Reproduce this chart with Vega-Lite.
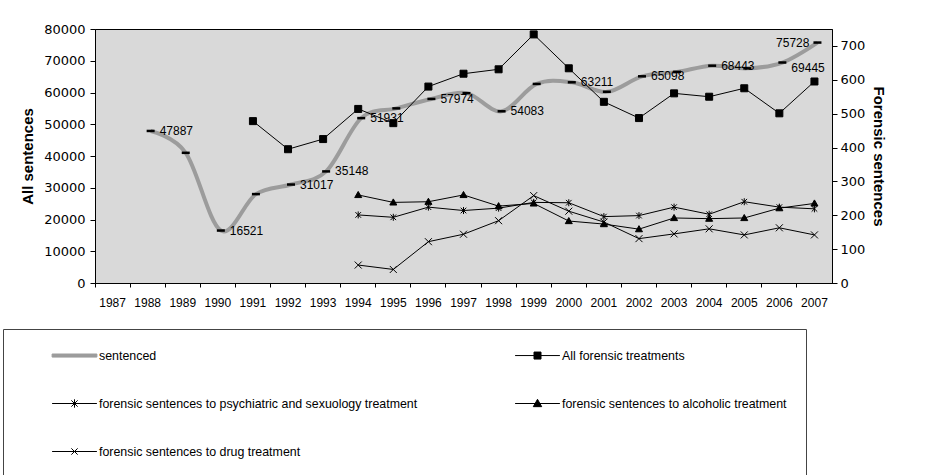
{
  "$schema": "https://vega.github.io/schema/vega-lite/v6.json",
  "width": 737,
  "height": 254,
  "autosize": {"type": "none"},
  "padding": {"left": 95, "top": 29, "right": 99, "bottom": 192},
  "background": "white",
  "config": {
    "view": {"fill": "#d9d9d9", "stroke": "#000", "strokeWidth": 1},
    "axis": {
      "grid": false,
      "domainColor": "#000",
      "tickColor": "#000",
      "labelColor": "#000",
      "titleColor": "#000",
      "domainWidth": 1,
      "tickWidth": 1
    }
  },
  "datasets": {
    "sentenced": [
      {"year": 1988, "value": 47887},
      {"year": 1989, "value": 41000},
      {"year": 1990, "value": 16521},
      {"year": 1991, "value": 28000},
      {"year": 1992, "value": 31017},
      {"year": 1993, "value": 35148},
      {"year": 1994, "value": 51931},
      {"year": 1995, "value": 55000},
      {"year": 1996, "value": 57974},
      {"year": 1997, "value": 59800},
      {"year": 1998, "value": 54083},
      {"year": 1999, "value": 62700},
      {"year": 2000, "value": 63211},
      {"year": 2001, "value": 60200},
      {"year": 2002, "value": 65098},
      {"year": 2003, "value": 66500},
      {"year": 2004, "value": 68443},
      {"year": 2005, "value": 67600},
      {"year": 2006, "value": 69445},
      {"year": 2007, "value": 75728}
    ],
    "forensic": [
      {"year": 1991, "series": "All forensic treatments", "value": 478},
      {"year": 1992, "series": "All forensic treatments", "value": 395},
      {"year": 1993, "series": "All forensic treatments", "value": 425},
      {"year": 1994, "series": "All forensic treatments", "value": 514},
      {"year": 1995, "series": "All forensic treatments", "value": 472},
      {"year": 1996, "series": "All forensic treatments", "value": 580},
      {"year": 1997, "series": "All forensic treatments", "value": 618},
      {"year": 1998, "series": "All forensic treatments", "value": 631},
      {"year": 1999, "series": "All forensic treatments", "value": 734},
      {"year": 2000, "series": "All forensic treatments", "value": 634},
      {"year": 2001, "series": "All forensic treatments", "value": 535},
      {"year": 2002, "series": "All forensic treatments", "value": 487},
      {"year": 2003, "series": "All forensic treatments", "value": 560},
      {"year": 2004, "series": "All forensic treatments", "value": 550},
      {"year": 2005, "series": "All forensic treatments", "value": 575},
      {"year": 2006, "series": "All forensic treatments", "value": 501},
      {"year": 2007, "series": "All forensic treatments", "value": 595},
      {"year": 1994, "series": "forensic sentences to psychiatric and sexuology treatment", "value": 201},
      {"year": 1995, "series": "forensic sentences to psychiatric and sexuology treatment", "value": 194},
      {"year": 1996, "series": "forensic sentences to psychiatric and sexuology treatment", "value": 224},
      {"year": 1997, "series": "forensic sentences to psychiatric and sexuology treatment", "value": 214},
      {"year": 1998, "series": "forensic sentences to psychiatric and sexuology treatment", "value": 221},
      {"year": 1999, "series": "forensic sentences to psychiatric and sexuology treatment", "value": 238},
      {"year": 2000, "series": "forensic sentences to psychiatric and sexuology treatment", "value": 237},
      {"year": 2001, "series": "forensic sentences to psychiatric and sexuology treatment", "value": 196},
      {"year": 2002, "series": "forensic sentences to psychiatric and sexuology treatment", "value": 199},
      {"year": 2003, "series": "forensic sentences to psychiatric and sexuology treatment", "value": 224},
      {"year": 2004, "series": "forensic sentences to psychiatric and sexuology treatment", "value": 203},
      {"year": 2005, "series": "forensic sentences to psychiatric and sexuology treatment", "value": 240},
      {"year": 2006, "series": "forensic sentences to psychiatric and sexuology treatment", "value": 224},
      {"year": 2007, "series": "forensic sentences to psychiatric and sexuology treatment", "value": 219},
      {"year": 1994, "series": "forensic sentences to alcoholic treatment", "value": 260},
      {"year": 1995, "series": "forensic sentences to alcoholic treatment", "value": 238},
      {"year": 1996, "series": "forensic sentences to alcoholic treatment", "value": 240},
      {"year": 1997, "series": "forensic sentences to alcoholic treatment", "value": 260},
      {"year": 1998, "series": "forensic sentences to alcoholic treatment", "value": 227},
      {"year": 1999, "series": "forensic sentences to alcoholic treatment", "value": 235},
      {"year": 2000, "series": "forensic sentences to alcoholic treatment", "value": 183},
      {"year": 2001, "series": "forensic sentences to alcoholic treatment", "value": 174},
      {"year": 2002, "series": "forensic sentences to alcoholic treatment", "value": 159},
      {"year": 2003, "series": "forensic sentences to alcoholic treatment", "value": 192},
      {"year": 2004, "series": "forensic sentences to alcoholic treatment", "value": 190},
      {"year": 2005, "series": "forensic sentences to alcoholic treatment", "value": 192},
      {"year": 2006, "series": "forensic sentences to alcoholic treatment", "value": 221},
      {"year": 2007, "series": "forensic sentences to alcoholic treatment", "value": 235},
      {"year": 1994, "series": "forensic sentences to drug treatment", "value": 53},
      {"year": 1995, "series": "forensic sentences to drug treatment", "value": 40},
      {"year": 1996, "series": "forensic sentences to drug treatment", "value": 122},
      {"year": 1997, "series": "forensic sentences to drug treatment", "value": 144},
      {"year": 1998, "series": "forensic sentences to drug treatment", "value": 184},
      {"year": 1999, "series": "forensic sentences to drug treatment", "value": 258},
      {"year": 2000, "series": "forensic sentences to drug treatment", "value": 212},
      {"year": 2001, "series": "forensic sentences to drug treatment", "value": 180},
      {"year": 2002, "series": "forensic sentences to drug treatment", "value": 131},
      {"year": 2003, "series": "forensic sentences to drug treatment", "value": 145},
      {"year": 2004, "series": "forensic sentences to drug treatment", "value": 160},
      {"year": 2005, "series": "forensic sentences to drug treatment", "value": 142},
      {"year": 2006, "series": "forensic sentences to drug treatment", "value": 163},
      {"year": 2007, "series": "forensic sentences to drug treatment", "value": 142}
    ]
  },
  "encoding": {
    "x": {
      "field": "year",
      "type": "ordinal",
      "bandPosition": 0.5,
      "scale": {
        "type": "band",
        "paddingInner": 0,
        "paddingOuter": 0,
        "domain": [1987, 1988, 1989, 1990, 1991, 1992, 1993, 1994, 1995, 1996, 1997, 1998, 1999, 2000, 2001, 2002, 2003, 2004, 2005, 2006, 2007]
      },
      "axis": {
        "title": null,
        "orient": "bottom",
        "bandPosition": 0,
        "labelAngle": 0,
        "tickSize": 4,
        "labelPadding": 10,
        "labelFont": "Liberation Sans",
        "labelFontSize": 12
      }
    }
  },
  "layer": [
    {
      "data": {"name": "sentenced"},
      "encoding": {
        "y": {
          "field": "value",
          "type": "quantitative",
          "scale": {"domain": [0, 80000], "nice": false, "zero": true},
          "axis": {
            "orient": "left",
            "title": "All sentences",
            "values": [0, 10000, 20000, 30000, 40000, 50000, 60000, 70000, 80000],
            "format": "d",
            "tickSize": 5,
            "labelPadding": 5,
            "labelFont": "DejaVu Sans",
            "labelFontSize": 13,
            "titleFont": "Liberation Sans",
            "titleFontSize": 15,
            "titleFontWeight": "bold",
            "titlePadding": 8
          }
        }
      },
      "layer": [
        {"mark": {"type": "line", "interpolate": "cardinal", "color": "#9c9c9c", "strokeWidth": 4, "xOffset": 3}},
        {"mark": {"type": "tick", "color": "#000", "size": 8, "thickness": 2.5, "xOffset": 3, "opacity": 1}},
        {
          "transform": [{"filter": {"field": "year", "oneOf": [1988, 1990, 1992, 1993, 1994, 1996, 1998, 2000, 2002, 2004]}}],
          "mark": {"type": "text", "align": "left", "baseline": "middle", "xOffset": 3, "dx": 9, "font": "Liberation Sans", "fontSize": 12, "color": "#000"},
          "encoding": {"text": {"field": "value", "type": "quantitative", "format": "d"}}
        },
        {
          "transform": [{"filter": {"field": "year", "equal": 2006}}],
          "mark": {"type": "text", "align": "left", "baseline": "middle", "xOffset": 3, "dx": 9, "dy": 5, "font": "Liberation Sans", "fontSize": 12, "color": "#000"},
          "encoding": {"text": {"field": "value", "type": "quantitative", "format": "d"}}
        },
        {
          "transform": [{"filter": {"field": "year", "equal": 2007}}],
          "mark": {"type": "text", "align": "right", "baseline": "middle", "xOffset": 3, "dx": -8, "font": "Liberation Sans", "fontSize": 12, "color": "#000"},
          "encoding": {"text": {"field": "value", "type": "quantitative", "format": "d"}}
        }
      ]
    },
    {
      "data": {"name": "forensic"},
      "encoding": {
        "y": {
          "field": "value",
          "type": "quantitative",
          "scale": {"domain": [0, 750], "nice": false, "zero": true},
          "axis": {
            "orient": "right",
            "title": "Forensic sentences",
            "values": [0, 100, 200, 300, 400, 500, 600, 700],
            "tickSize": 5,
            "labelPadding": 3,
            "labelFont": "DejaVu Sans",
            "labelFontSize": 13,
            "titleFont": "Liberation Sans",
            "titleFontSize": 15,
            "titleFontWeight": "bold",
            "titlePadding": 6
          }
        }
      },
      "layer": [
        {
          "mark": {"type": "line", "strokeWidth": 1},
          "encoding": {
            "stroke": {
              "field": "series",
              "type": "nominal",
              "scale": {
                "domain": [
                  "sentenced",
                  "All forensic treatments",
                  "forensic sentences to psychiatric and sexuology treatment",
                  "forensic sentences to alcoholic treatment",
                  "forensic sentences to drug treatment"
                ],
                "range": ["#9c9c9c", "#000", "#000", "#000", "#000"]
              },
              "legend": {
                "title": null,
                "orient": "none",
                "direction": "horizontal",
                "legendX": -92,
                "legendY": 300,
                "columns": 2,
                "columnPadding": 67,
                "rowPadding": 34,
                "padding": 19,
                "strokeColor": "#444",
                "fillColor": "#fff",
                "symbolSize": 196,
                "symbolOffset": 45,
                "labelOffset": 17,
                "labelFont": "Liberation Sans",
                "labelFontSize": 12.4,
                "labelColor": "#000",
                "labelLimit": 600,
                "encoding": {
                  "symbols": {
                    "shape": {"value": {"expr": "datum.value === 'sentenced' ? 'M-3.2,-0.22H3.2V0.22H-3.2Z' : datum.value === 'All forensic treatments' ? 'M-3.2,0H3.2M-0.5,-0.5H0.5V0.5H-0.5Z' : datum.value === 'forensic sentences to alcoholic treatment' ? 'M-3.2,0H3.2M0,-0.6L0.6,0.45H-0.6Z' : datum.value === 'forensic sentences to drug treatment' ? 'M-3.2,0H3.2M-0.45,-0.45L0.45,0.45M-0.45,0.45L0.45,-0.45' : 'M-3.2,0H3.2M-0.45,-0.45L0.45,0.45M-0.45,0.45L0.45,-0.45M0,-0.6V0.6'"}},
                    "fill": {"value": {"expr": "datum.value === 'sentenced' ? '#9c9c9c' : '#000'"}},
                    "stroke": {"value": {"expr": "datum.value === 'sentenced' ? '#9c9c9c' : '#000'"}},
                    "strokeWidth": {"value": 1},
                    "opacity": {"value": 1}
                  }
                }
              }
            },
            "detail": {"field": "series", "type": "nominal"}
          }
        },
        {
          "mark": {"type": "point", "filled": true, "fill": "#000", "stroke": "#000", "strokeWidth": 1, "opacity": 1, "size": 49},
          "encoding": {
            "shape": {
              "field": "series",
              "type": "nominal",
              "scale": {
                "domain": [
                  "All forensic treatments",
                  "forensic sentences to psychiatric and sexuology treatment",
                  "forensic sentences to alcoholic treatment",
                  "forensic sentences to drug treatment"
                ],
                "range": [
                  "M-1,-1H1V1H-1Z",
                  "M-0.8,-0.8L0.8,0.8M-0.8,0.8L0.8,-0.8M0,-1V1",
                  "M0,-1L1,0.75H-1Z",
                  "M-1,-1L1,1M-1,1L1,-1"
                ]
              },
              "legend": null
            }
          }
        }
      ]
    }
  ],
  "resolve": {"scale": {"y": "independent"}}
}
